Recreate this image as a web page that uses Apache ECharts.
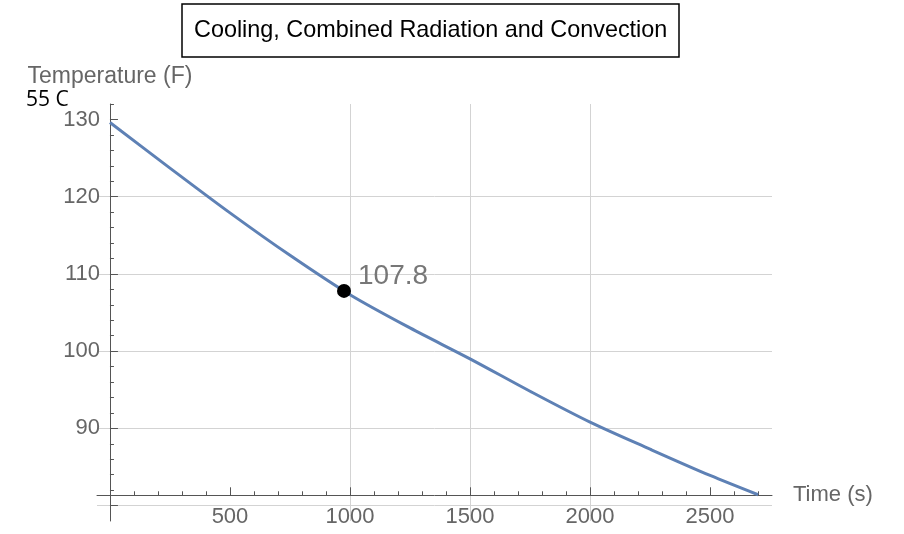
<!DOCTYPE html>
<html>
<head>
<meta charset="utf-8">
<script src="https://cdn.jsdelivr.net/npm/echarts@6/dist/echarts.min.js"></script>
<style>
  html, body { margin: 0; padding: 0; background: #fff; }
  #chart { width: 904px; height: 534px; }
</style>
</head>
<body>
<div id="chart"></div>
<script>
// Cooling curve: time in seconds vs temperature in °F
const times = [0, 250, 500, 750, 1000, 1250, 1500, 1750, 2000, 2250, 2500, 2700];
const temps = [129.6, 123.7, 117.9, 112.4, 107.3, 103.0, 99.0, 94.8, 90.8, 87.3, 83.9, 81.4];

// Highlighted reading
const markTime = 975;
const markTemp = 107.8;

// Tick positions
const xMajorTicks = [500, 1000, 1500, 2000, 2500];
const xMinorTicks = [100, 200, 300, 400, 600, 700, 800, 900, 1100, 1200, 1300, 1400,
  1600, 1700, 1800, 1900, 2100, 2200, 2300, 2400, 2600, 2700];
const yMajorTicks = [80, 90, 100, 110, 120, 130];
const yLabelTicks = [90, 100, 110, 120, 130];
const yMinorTicks = [82, 84, 86, 88, 92, 94, 96, 98, 102, 104, 106, 108, 112, 114, 116, 118,
  122, 124, 126, 128, 132];

// Axis ranges and where the time axis crosses the temperature axis
const xMin = -54, xMax = 2758;
const yMin = 78, yMax = 132;
const timeAxisAt = 81.33;

const gridBox = { left: 97, right: 132, top: 104, bottom: 13 };
const W = 904, H = 534;
const gridH = H - gridBox.top - gridBox.bottom;
const xAxisOffset = -(timeAxisAt - yMin) / (yMax - yMin) * gridH;

const font = 'Liberation Sans, Arial, sans-serif';
const labelGrey = '#666';
const axisGrey = '#555';
const gridGrey = '#d3d3d3';
const lineBlue = '#5E81B5';

const chart = echarts.init(document.getElementById('chart'), null, { renderer: 'canvas' });

chart.setOption({
  backgroundColor: '#fff',
  animation: false,
  title: [
    {
      text: 'Cooling, Combined Radiation and Convection',
      left: 182, top: 4,
      padding: [15, 12],
      borderColor: '#000',
      borderWidth: 1.5,
      textStyle: { fontFamily: font, fontSize: 23.4, fontWeight: 'normal', color: '#000' }
    },
    {
      text: '55 C',
      left: 26, top: 90,
      padding: 0,
      textStyle: { fontFamily: 'Open Sans, sans-serif', fontSize: 21, fontWeight: 'normal', color: '#000' }
    }
  ],
  grid: Object.assign({ containLabel: false }, gridBox),
  xAxis: [
    {
      type: 'value', min: xMin, max: xMax, splitNumber: 5,
      position: 'bottom', offset: xAxisOffset,
      name: 'Time (s)', nameLocation: 'end', nameGap: 21,
      nameTextStyle: { fontFamily: font, fontSize: 22, color: labelGrey, verticalAlign: 'middle' },
      axisLine: { show: true, onZero: false, lineStyle: { color: axisGrey, width: 1 } },
      axisTick: { show: true, inside: true, length: 8, customValues: xMajorTicks, lineStyle: { color: axisGrey } },
      axisLabel: {
        customValues: xMajorTicks, formatter: v => String(v),
        fontFamily: font, fontSize: 22, color: labelGrey, margin: 11
      },
      splitLine: { show: true, showMinLine: false, showMaxLine: false, lineStyle: { color: gridGrey, width: 1 } }
    },
    {
      type: 'value', min: xMin, max: xMax, splitNumber: 5,
      position: 'bottom', offset: xAxisOffset,
      axisLine: { show: false, onZero: false },
      axisTick: { show: true, inside: true, length: 4, customValues: xMinorTicks, lineStyle: { color: axisGrey } },
      axisLabel: { show: false },
      splitLine: { show: false }
    }
  ],
  yAxis: [
    {
      type: 'value', min: yMin, max: yMax, splitNumber: 5,
      position: 'left',
      name: 'Temperature (F)', nameLocation: 'end', nameGap: 16,
      nameTextStyle: { fontFamily: font, fontSize: 23, color: labelGrey },
      axisLine: { show: true, onZero: true, lineStyle: { color: axisGrey, width: 1 } },
      axisTick: { show: true, inside: true, length: 8, customValues: yMajorTicks, lineStyle: { color: axisGrey } },
      axisLabel: {
        customValues: yLabelTicks, formatter: v => String(v),
        fontFamily: font, fontSize: 22, color: labelGrey, margin: -3
      },
      splitLine: { show: true, showMinLine: true, showMaxLine: false, lineStyle: { color: gridGrey, width: 1 } }
    },
    {
      type: 'value', min: yMin, max: yMax, splitNumber: 5,
      position: 'left',
      axisLine: { show: false, onZero: true },
      axisTick: { show: true, inside: true, length: 4, customValues: yMinorTicks, lineStyle: { color: axisGrey } },
      axisLabel: { show: false },
      splitLine: { show: false }
    }
  ],
  series: [
    {
      type: 'line',
      xAxisIndex: 0, yAxisIndex: 0,
      data: times.map((t, i) => [t, temps[i]]),
      smooth: 0.3,
      showSymbol: false,
      lineStyle: { color: lineBlue, width: 3 },
      z: 3
    },
    {
      type: 'scatter',
      xAxisIndex: 0, yAxisIndex: 0,
      data: [[markTime, markTemp]],
      symbol: 'circle',
      symbolSize: 14,
      itemStyle: { color: '#000', opacity: 1 },
      label: {
        show: true,
        position: 'right',
        distance: 7,
        offset: [0, -15],
        formatter: p => p.value[1].toFixed(1),
        fontFamily: font, fontSize: 28, color: '#777'
      },
      z: 4
    }
  ]
});
</script>
</body>
</html>
